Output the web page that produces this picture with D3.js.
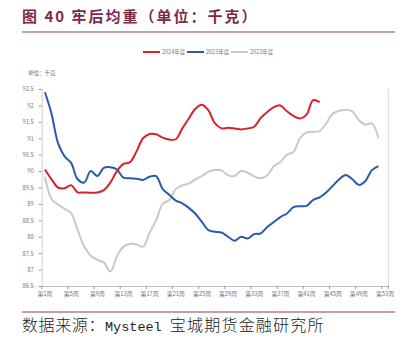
<!DOCTYPE html>
<html>
<head>
<meta charset="utf-8">
<script src="https://cdn.jsdelivr.net/npm/d3@7"></script>
<style>
  body { margin: 0; background: #fff; }
  svg { display: block; }
</style>
</head>
<body>
<div id="chart"></div>
<script>
var width = 402;
var height = 353;

var seriesNames = ['2024年度', '2023年度', '2022年度'];
var seriesColors = ['#d9202b', '#2b5aa6', '#c9c9c9'];

// 宰后均重, 千克, 按周
var y2024 = [90.05, 89.75, 89.5, 89.48, 89.57, 89.35, 89.35, 89.34, 89.35, 89.42,
  89.65, 90.0, 90.22, 90.27, 90.6, 91.0, 91.13, 91.12, 91.02, 90.96,
  90.97, 91.3, 91.6, 91.9, 92.02, 91.85, 91.45, 91.3, 91.32, 91.3,
  91.27, 91.3, 91.35, 91.62, 91.8, 91.95, 92.0, 91.82, 91.68, 91.6,
  91.72, 92.16, 92.1];
var y2023 = [92.4, 91.75, 90.85, 90.45, 90.25, 89.75, 89.65, 90.0, 89.85, 90.1,
  90.12, 90.05, 89.8, 89.78, 89.77, 89.73, 89.83, 89.85, 89.45, 89.28,
  89.1, 89.02, 88.88, 88.7, 88.45, 88.2, 88.15, 88.13, 88.0, 87.88,
  88.0, 87.95, 88.08, 88.1, 88.3, 88.45, 88.6, 88.71, 88.9, 88.93,
  88.94, 89.12, 89.2, 89.35, 89.55, 89.75, 89.88, 89.75, 89.58, 89.7,
  90.03, 90.15];
var y2022 = [89.83, 89.15, 88.98, 88.85, 88.72, 88.2, 87.7, 87.42, 87.3, 87.22,
  86.94, 87.4, 87.7, 87.78, 87.77, 87.7, 88.12, 88.5, 89.0, 89.12,
  89.45, 89.57, 89.62, 89.75, 89.85, 89.98, 90.03, 90.02, 89.87, 89.85,
  90.0, 89.95, 89.84, 89.78, 89.87, 90.15, 90.28, 90.5, 90.58, 91.0,
  91.18, 91.2, 91.22, 91.45, 91.75, 91.84, 91.86, 91.82, 91.55, 91.42,
  91.45, 91.0];

var weeks = d3.range(1, 54);
var tickWeeks = [1, 5, 9, 13, 17, 21, 25, 29, 33, 37, 41, 45, 49, 53];
var yTicks = [86.5, 87, 87.5, 88, 88.5, 89, 89.5, 90, 90.5, 91, 91.5, 92, 92.5];

var series = [y2024, y2023, y2022];

var svg = d3.select("#chart").append("svg")
  .attr("width", width)
  .attr("height", height);

// title
svg.append("text")
  .attr("x", 22)
  .attr("y", 22)
  .attr("font-family", "'Noto Sans CJK SC', sans-serif")
  .attr("font-weight", "bold")
  .attr("font-size", 15)
  .attr("letter-spacing", 2)
  .attr("fill", "#7d2a48")
  .text("图 40 牢后均重（单位：千克）");

svg.append("line")
  .attr("x1", 22).attr("x2", 395)
  .attr("y1", 32).attr("y2", 32)
  .attr("stroke", "#8c3d5a")
  .attr("stroke-width", 1.2);

svg.append("line")
  .attr("x1", 22).attr("x2", 395)
  .attr("y1", 312).attr("y2", 312)
  .attr("stroke", "#8c3d5a")
  .attr("stroke-width", 1.2);

// source
var src = svg.append("text")
  .attr("x", 22)
  .attr("y", 331)
  .attr("fill", "#222")
  .attr("font-size", 16)
  .attr("font-weight", 300)
  .attr("font-family", "'Noto Sans CJK SC', sans-serif");
src.append("tspan").attr("letter-spacing", 0.6).text("数据来源：");
src.append("tspan")
  .attr("font-family", "'Liberation Mono', monospace")
  .attr("font-size", 13.5)
  .attr("font-weight", "normal")
  .text("Mysteel ");
src.append("tspan").attr("letter-spacing", 1.2).text("宝城期货金融研究所");

var x = d3.scaleBand()
  .domain(weeks)
  .range([41.7, 388.3])
  .padding(0);

var y = d3.scaleLinear()
  .domain([86.5, 92.5])
  .range([286, 89]);

function cx(i) { return x(i + 1) + x.bandwidth() / 2; }

// unit label
svg.append("text")
  .attr("x", 28)
  .attr("y", 75)
  .attr("font-size", 5.5)
  .attr("fill", "#666")
  .attr("font-family", "'Noto Sans CJK SC', sans-serif")
  .text("单位：千克");

// y axis
var yAxis = svg.append("g")
  .attr("transform", "translate(41.7,0)")
  .call(d3.axisLeft(y).tickValues(yTicks).tickSize(3).tickPadding(5)
    .tickFormat(function(d) { return String(d); }));
yAxis.select(".domain").attr("stroke", "#d0d0d0");
yAxis.selectAll(".tick line").attr("stroke", "#999");
yAxis.selectAll("text")
  .attr("fill", "#777")
  .attr("font-size", 5.8)
  .attr("font-family", "'Noto Sans CJK SC', sans-serif");

// x axis
var xAxis = svg.append("g")
  .attr("transform", "translate(0,286)")
  .call(d3.axisBottom(x).tickValues(tickWeeks).tickSize(0).tickPadding(6)
    .tickFormat(function(d) { return "第" + d + "周"; }));
xAxis.select(".domain").attr("stroke", "#bdbdbd");
xAxis.selectAll("text")
  .attr("fill", "#777")
  .attr("font-size", 5.8)
  .attr("font-family", "'Noto Sans CJK SC', sans-serif");

svg.append("g").selectAll("line")
  .data(tickWeeks.map(function(w) { return x(w); }).concat([x.range()[1]]))
  .enter().append("line")
  .attr("x1", function(d) { return d; })
  .attr("x2", function(d) { return d; })
  .attr("y1", 286).attr("y2", 289)
  .attr("stroke", "#999");

// right border
svg.append("line")
  .attr("x1", x.range()[1]).attr("x2", x.range()[1])
  .attr("y1", 89).attr("y2", 286)
  .attr("stroke", "#d6d6d6");

// lines
var line = d3.line()
  .x(function(d, i) { return cx(i); })
  .y(function(d) { return y(d); })
  .curve(d3.curveCatmullRom.alpha(0.5));

var order = [2, 1, 0];
order.forEach(function(k) {
  svg.append("path")
    .datum(series[k])
    .attr("fill", "none")
    .attr("stroke", seriesColors[k])
    .attr("stroke-width", 2)
    .attr("d", line);
});

// legend
var legendX = [143, 187, 231];
var legend = svg.append("g");
seriesNames.forEach(function(name, i) {
  legend.append("line")
    .attr("x1", legendX[i]).attr("x2", legendX[i] + 17)
    .attr("y1", 52).attr("y2", 52)
    .attr("stroke", seriesColors[i])
    .attr("stroke-width", 2);
  legend.append("text")
    .attr("x", legendX[i] + 19)
    .attr("y", 54)
    .attr("font-size", 5.5)
    .attr("fill", "#777")
    .attr("font-family", "'Noto Sans CJK SC', sans-serif")
    .text(name);
});
</script>
</body>
</html>
